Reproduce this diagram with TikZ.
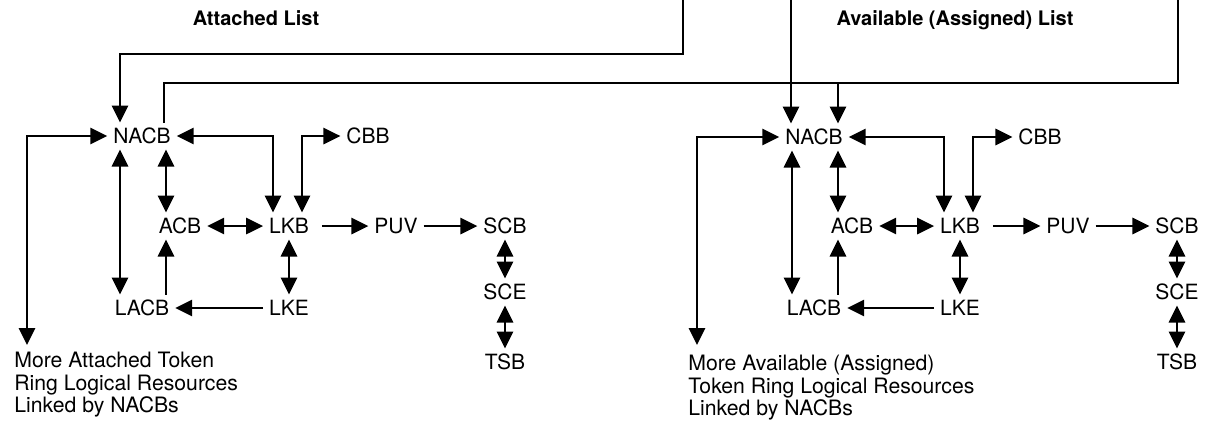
\documentclass[tikz,border=0pt]{standalone}
\usepackage{fontspec}
\setmainfont{TeX Gyre Heros}
\usetikzlibrary{arrows.meta}

\begin{document}
\begin{tikzpicture}[x=0.5pt,y=-0.5pt,lbl/.style={inner sep=2.8pt,text height=7.5pt,text depth=0pt,font=\fontsize{10.5}{12}\selectfont},ttl/.style={inner sep=0pt,text height=7.2pt,text depth=0pt,font=\bfseries\fontsize{10}{12}\selectfont},note/.style={inner sep=0pt,anchor=north west,align=left,font=\fontsize{10.6}{11.2}\selectfont},wire/.style={line width=1.45pt},arr/.style={wire,-{Triangle[length=8.5pt,width=8pt]}},dar/.style={wire,{Triangle[length=8.5pt,width=8pt]}-{Triangle[length=8.5pt,width=8pt]}}]
\useasboundingbox (0,0) rectangle (1209,423);
% list titles
\node[ttl] (attl) at (256,18) {Attached List};
\node[ttl] (avttl) at (955,18) {Available (Assigned) List};
% attached side
\node[lbl] (lnacb) at (142,136) {NACB};
\node[lbl] (lcbb) at (368,136) {CBB};
\node[lbl] (lacb) at (180,226) {ACB};
\node[lbl] (llkb) at (289,226) {LKB};
\node[lbl] (lpuv) at (396,226) {PUV};
\node[lbl] (lscb) at (505,226) {SCB};
\node[lbl] (lsce) at (505,292) {SCE};
\node[lbl] (ltsb) at (505,362) {TSB};
\node[lbl] (llacb) at (142,308) {LACB};
\node[lbl] (llke) at (289,308) {LKE};
\node[note] (lmore) at (14,352) {More Attached Token\\Ring Logical Resources\\Linked by NACBs};
% available side
\node[lbl] (rnacb) at (814,137) {NACB};
\node[lbl] (rcbb) at (1040,137) {CBB};
\node[lbl] (racb) at (852,226) {ACB};
\node[lbl] (rlkb) at (960,226) {LKB};
\node[lbl] (rpuv) at (1068,226) {PUV};
\node[lbl] (rscb) at (1177,226) {SCB};
\node[lbl] (rsce) at (1177,292) {SCE};
\node[lbl] (rtsb) at (1177,362) {TSB};
\node[lbl] (rlacb) at (814,308) {LACB};
\node[lbl] (rlke) at (960,308) {LKE};
\node[note] (rmore) at (688,355) {More Available (Assigned)\\Token Ring Logical Resources\\Linked by NACBs};
% list heads
\coordinate (ltop) at (683,0);
\coordinate (ctop) at (791,0);
\coordinate (rtop) at (1178,0);
\coordinate (bus) at (838,83);
\coordinate (lend) at (27,345);
\coordinate (rend) at (697,345);
\draw[arr] (ltop) -- ++(0,54) -| ([xshift=-11pt]lnacb.north);
\draw[wire] ([xshift=11pt]lnacb.north) |- (bus) -| (rtop);
\draw[arr] (bus) -- (bus |- rnacb.north);
\draw[arr] (ctop) -- (ctop |- rnacb.north);
% attached links
\draw[dar] (lend) |- (lnacb.west);
\draw[dar] (lnacb.east) -| ([xshift=-8pt]llkb.north);
\draw[dar] ([xshift=6.5pt]llkb.north) |- (lcbb.west);
\draw[dar] ([xshift=12pt]lnacb.south) -- ([xshift=-7pt]lacb.north);
\draw[dar] ([xshift=-11pt]lnacb.south) -- ([xshift=-11pt]llacb.north);
\draw[dar] (lacb) -- (llkb);
\draw[arr,shorten <=3.5pt] (llkb) -- (lpuv);
\draw[arr] (lpuv) -- (lscb);
\draw[arr] ([xshift=12pt]llacb.north) -- ([xshift=-7pt]lacb.south);
\draw[dar] (llkb) -- (llke);
\draw[arr] (llke) -- (llacb);
\draw[dar] (lscb) -- (lsce);
\draw[dar] (lsce) -- (ltsb);
% available links
\draw[dar] (rend) |- (rnacb.west);
\draw[dar] (rnacb.east) -| ([xshift=-8pt]rlkb.north);
\draw[dar] ([xshift=6.5pt]rlkb.north) |- (rcbb.west);
\draw[dar] ([xshift=12pt]rnacb.south) -- ([xshift=-7pt]racb.north);
\draw[dar] ([xshift=-11pt]rnacb.south) -- ([xshift=-11pt]rlacb.north);
\draw[dar] (racb) -- (rlkb);
\draw[arr,shorten <=3.5pt] (rlkb) -- (rpuv);
\draw[arr] (rpuv) -- (rscb);
\draw[arr] ([xshift=12pt]rlacb.north) -- ([xshift=-7pt]racb.south);
\draw[dar] (rlkb) -- (rlke);
\draw[arr] (rlke) -- (rlacb);
\draw[dar] (rscb) -- (rsce);
\draw[dar] (rsce) -- (rtsb);
\end{tikzpicture}
\end{document}
